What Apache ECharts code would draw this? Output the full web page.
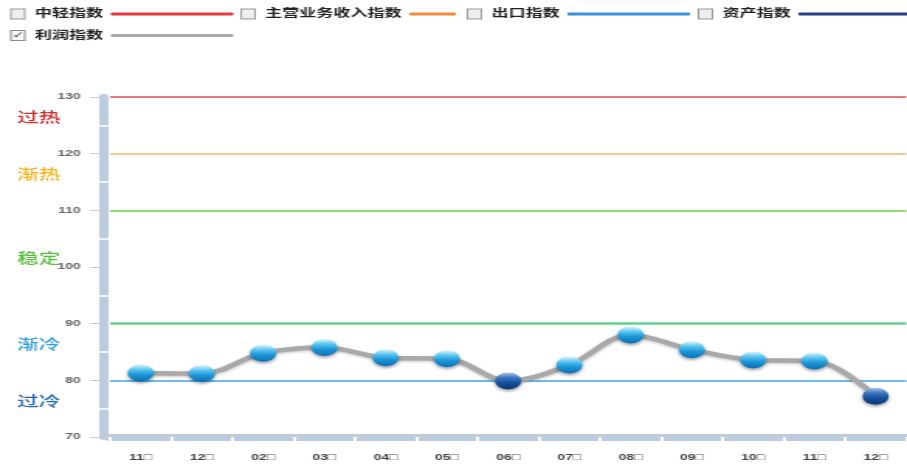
<!DOCTYPE html>
<html>
<head>
<meta charset="utf-8">
<title>利润指数</title>
<script src="https://cdn.jsdelivr.net/npm/echarts@6.0.0/dist/echarts.min.js"></script>
<style>
    html, body { margin: 0; padding: 0; background: #fff; overflow: hidden; }
    /* 原图是横向拉伸过的，这里用同样的拉伸还原 */
    #echarts { width: 585px; height: 465px; transform: scaleX(1.5504); transform-origin: 0 0; }
</style>
</head>
<body>
<div id="echarts"></div>
<script>
// 月份
let months = ['11□', '12□', '02□', '03□', '04□', '05□', '06□', '07□', '08□', '09□', '10□', '11□', '12□'];
// 利润指数
let profitIndex = [81.3, 81.2, 84.8, 85.8, 84.0, 83.8, 79.9, 82.7, 88.0, 85.4, 83.6, 83.4, 77.2];
// 其余指数 (未勾选，不显示)
let lightIndex = [];
let revenueIndex = [];
let exportIndex = [];
let assetIndex = [];

let seriesNames = ['中轻指数', '主营业务收入指数', '出口指数', '资产指数', '利润指数'];
let seriesColors = ['#e23a3f', '#f3893a', '#3a8fd8', '#2b3f86', '#a9a9a9'];

// 景气区间分界线
let levelValues = [130, 120, 110, 90, 80];
let levelColors = ['#e0474c', '#f4b56a', '#6fcd45', '#62d38a', '#3ea3e0'];

// 区间文字
let zoneNames = ['过热', '渐热', '稳定', '渐冷', '过冷'];
let zoneColors = ['#cc2b2b', '#f7b31c', '#55c03c', '#2f9de0', '#2566b3'];
let zoneY = [117, 174, 258, 344, 401];

let yTicks = { min: 70, max: 130, interval: 10 };

const FONT = "'Liberation Sans', 'Noto Sans CJK SC', sans-serif";

window.onload = function () {
    createEchart('echarts', lineChart());
}

let createEchart = function (echartsInName, option) {
    let chart = echarts.init(document.getElementById(echartsInName));
    chart.setOption(option);
    return chart;
}

let ballColor = function (dark) {
    let stops = dark
        ? [[0, '#a9c6ea'], [0.3, '#3f78c2'], [0.6, '#17509b'], [1, '#0c3975']]
        : [[0, '#dff5ff'], [0.3, '#5cc6f1'], [0.6, '#1d96d8'], [1, '#0b6fb6']];
    return new echarts.graphic.LinearGradient(0, 0, 0, 1,
        stops.map(s => ({ offset: s[0], color: s[1] })));
}

// 图例：每项单独一个，位置和线长都不一样
let legendItem = function (name, color, left, top, lineWidth, checked) {
    return {
        left: left,
        top: top,
        padding: 0,
        align: 'right',
        itemWidth: lineWidth,
        itemHeight: 3,
        icon: 'roundRect',
        selectedMode: false,
        data: [{ name: name, itemStyle: { color: color } }],
        formatter: function (n) {
            return (checked ? '{chk|✓}' : '{box| }') + '{t|' + n + '}';
        },
        textStyle: {
            rich: {
                box: { width: 8, height: 9, borderColor: '#9a9a9a', borderWidth: 1, backgroundColor: '#eeeeee' },
                chk: { width: 8, height: 9, borderColor: '#8a8a8a', borderWidth: 1, backgroundColor: '#f6f6f6',
                       fontSize: 9, color: '#333', align: 'center', lineHeight: 9 },
                t: { fontSize: 11, fontWeight: 'bold', color: '#222', fontFamily: FONT, padding: [0, 0, 0, 7] }
            }
        }
    };
}

let lineChart = function () {
    let allData = [lightIndex, revenueIndex, exportIndex, assetIndex, profitIndex];

    let series = seriesNames.map((name, i) => ({
        name: name,
        type: 'line',
        data: allData[i],
        color: seriesColors[i],
        smooth: 0.35,
        symbol: 'circle',
        symbolSize: 17,
        lineStyle: { width: 4.5, color: seriesColors[i], shadowColor: 'rgba(0,0,0,0.25)', shadowBlur: 3, shadowOffsetY: 1 }
    }));

    let profit = series[4];
    profit.data = profitIndex.map(v => ({
        value: v,
        itemStyle: { color: ballColor(v < 80), shadowColor: 'rgba(0,0,0,0.35)', shadowBlur: 3, shadowOffsetY: 2 }
    }));
    profit.z = 5;
    profit.markLine = {
        silent: true,
        symbol: 'none',
        label: { show: false },
        animation: false,
        data: levelValues.map((v, i) => ({
            yAxis: v,
            lineStyle: { color: levelColors[i], width: i == 3 ? 2.5 : 1.6, type: 'solid' }
        }))
    };

    let baseY = {
        type: 'value',
        min: yTicks.min,
        max: yTicks.max,
        interval: yTicks.interval,
        position: 'left',
        splitLine: { show: false }
    };

    let option = {
        animation: false,
        legend: [
            legendItem(seriesNames[0], seriesColors[0], 6.5, 8, 79, false),
            legendItem(seriesNames[1], seriesColors[1], 155, 8, 30, false),
            legendItem(seriesNames[2], seriesColors[2], 301, 8, 79, false),
            legendItem(seriesNames[3], seriesColors[3], 450, 8, 74, false),
            legendItem(seriesNames[4], seriesColors[4], 6.5, 30, 79, true)
        ],
        grid: { left: 71, right: 0.5, top: 97, bottom: 28, containLabel: false },
        xAxis: [
            {
                type: 'category',
                data: months,
                boundaryGap: true,
                axisLine: { lineStyle: { color: '#bccbdd', width: 7 } },
                axisTick: { show: true, length: 4, lineStyle: { color: '#fff', width: 2 } },
                axisLabel: { margin: 16, fontSize: 9, fontWeight: 'bold', color: '#444', fontFamily: FONT, interval: 0 }
            },
            {
                type: 'category',
                data: months,
                boundaryGap: true,
                axisLine: { show: false },
                axisTick: { show: true, inside: true, length: 4, lineStyle: { color: '#fff', width: 2 } },
                axisLabel: { show: false }
            }
        ],
        yAxis: [
            Object.assign({}, baseY, {
                offset: 4,
                axisLine: { show: true, lineStyle: { color: '#bccbdd', width: 6 } },
                axisTick: { show: false },
                minorTick: { show: true, splitNumber: 2, length: 3, lineStyle: { color: '#fff', width: 1.5 } },
                axisLabel: { margin: 15, fontSize: 9, fontWeight: 'bold', color: '#666', fontFamily: FONT }
            }),
            Object.assign({}, baseY, {
                offset: 4,
                axisLine: { show: false },
                axisTick: { show: false, inside: true },
                minorTick: { show: true, splitNumber: 2, length: 3, lineStyle: { color: '#fff', width: 1.5 } },
                axisLabel: { show: false }
            }),
            Object.assign({}, baseY, {
                offset: 7,
                axisLine: { show: false },
                axisTick: { show: true, length: 6, lineStyle: { color: '#cfcfcf', width: 1 } },
                axisLabel: { show: false }
            })
        ],
        graphic: zoneNames.map((t, i) => ({
            type: 'text',
            left: 11,
            top: zoneY[i] - 6,
            silent: true,
            style: { text: t, fill: zoneColors[i], font: '500 14px ' + FONT }
        })),
        series: series
    };

    return option;
}
</script>
</body>
</html>
